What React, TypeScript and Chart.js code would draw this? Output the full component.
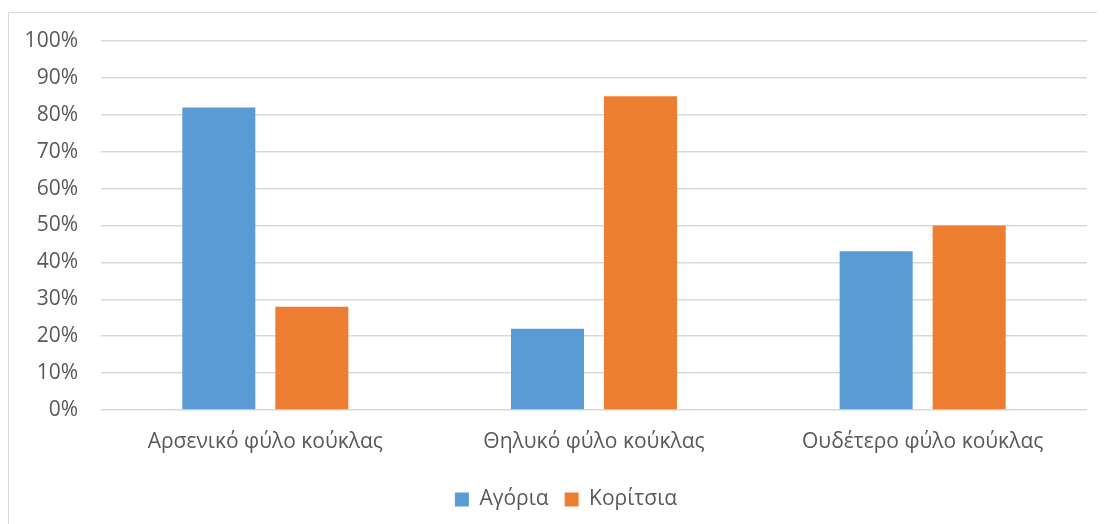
import React, { useEffect, useRef } from "react";
import { Chart, registerables } from "chart.js";

Chart.register(...registerables);

const categories = ["Αρσενικό φύλο κούκλας", "Θηλυκό φύλο κούκλας", "Ουδέτερο φύλο κούκλας"];
const seriesNames = ["Αγόρια", "Κορίτσια"];
const boys = [82, 22, 43];
const girls = [28, 85, 50];
const yMin = 0;
const yMax = 100;
const yStep = 10;

const BLUE = "#5B9BD5";
const ORANGE = "#ED7D31";
const TEXT = "#595959";
const GRID = "#d9d9d9";
const FONT = "'Open Sans', 'DejaVu Sans', sans-serif";

const legendShift = {
  id: "legendShift",
  afterLayout(chart: any) {
    const l = chart.legend;
    if (l) {
      l.left += 18;
      l.right += 18;
    }
  },
};

export default function App() {
  const ref = useRef<HTMLCanvasElement | null>(null);

  useEffect(() => {
    if (!ref.current) return;
    const chart = new Chart(ref.current, {
      type: "bar",
      data: {
        labels: categories,
        datasets: [
          { label: seriesNames[0], data: boys, backgroundColor: BLUE, categoryPercentage: 0.566, barPercentage: 0.785 },
          { label: seriesNames[1], data: girls, backgroundColor: ORANGE, categoryPercentage: 0.566, barPercentage: 0.785 },
        ],
      },
      plugins: [legendShift],
      options: {
        animation: false,
        responsive: false,
        maintainAspectRatio: false,
        layout: { padding: { top: 28, right: 9, left: 0, bottom: 3 } },
        plugins: {
          tooltip: { enabled: false },
          legend: {
            position: "bottom",
            labels: {
              color: TEXT,
              font: { family: FONT, size: 21 },
              boxWidth: 14,
              boxHeight: 14,
              padding: 16,
            },
          },
        },
        scales: {
          x: {
            grid: { display: false, drawTicks: false },
            border: { display: false },
            ticks: { color: TEXT, font: { family: FONT, size: 21 }, padding: 19, maxRotation: 0 },
            afterFit: (s: any) => { s.height = 63; },
          },
          y: {
            min: yMin,
            max: yMax,
            grid: { color: GRID, lineWidth: 1.5, drawTicks: true, tickLength: 23, tickColor: "rgba(0,0,0,0)" },
            border: { display: false },
            ticks: {
              stepSize: yStep,
              color: TEXT,
              font: { family: FONT, size: 21 },
              padding: 0,
              callback: (v: any) => v + "%",
            },
            afterFit: (s: any) => { s.width = 92; },
          },
        },
      },
    });
    return () => chart.destroy();
  }, []);

  return (
    <div
      style={{
        width: 1089,
        height: 512,
        marginTop: 4,
        borderTop: "1px solid #d9d9d9",
        borderLeft: "1px solid #d9d9d9",
        boxSizing: "border-box",
        background: "#fff",
      }}
    >
      <canvas ref={ref} width={1087} height={510} style={{ display: "block" }} />
    </div>
  );
}
